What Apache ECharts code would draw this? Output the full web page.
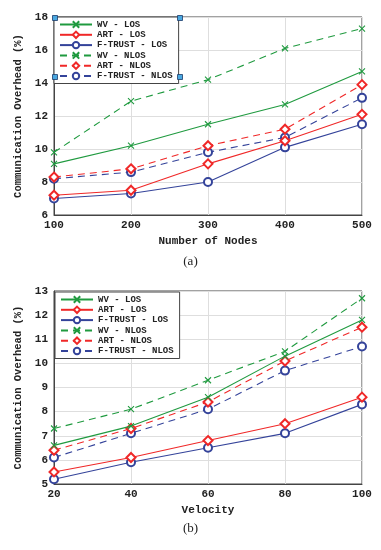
<!DOCTYPE html>
<html><head><meta charset="utf-8">
<script src="https://cdn.jsdelivr.net/npm/echarts@6/dist/echarts.min.js"></script>
<style>html,body{margin:0;padding:0;background:#fff;}#a,#b{width:381px;height:275px;}</style>
</head><body><div id="a"></div><div id="b"></div>
<script>
const seriesNames = ['WV - LOS','ART - LOS','F-TRUST - LOS','WV - NLOS','ART - NLOS','F-TRUST - NLOS'];
const nodesX = [100,200,300,400,500];
const a_wvLos = [9.1,10.2,11.5,12.7,14.7];
const a_artLos = [7.2,7.5,9.1,10.5,12.1];
const a_ftLos = [7.0,7.3,8.0,10.1,11.5];
const a_wvNlos = [9.8,12.9,14.2,16.1,17.3];
const a_artNlos = [8.3,8.8,10.2,11.2,13.9];
const a_ftNlos = [8.2,8.6,9.8,10.7,13.1];
const velX = [20,40,60,80,100];
const b_wvLos = [6.6,7.4,8.6,10.3,11.8];
const b_artLos = [5.5,6.1,6.8,7.5,8.6];
const b_ftLos = [5.2,5.9,6.5,7.1,8.3];
const b_wvNlos = [7.3,8.1,9.3,10.5,12.7];
const b_artNlos = [6.4,7.3,8.4,10.1,11.5];
const b_ftNlos = [6.1,7.1,8.1,9.7,10.7];

const GREEN='#1f9a3f', RED='#f02828', BLUE='#34439a';
const XSYM='path://M0,0L10,10M10,0L0,10';
const styles=[
 {c:GREEN,s:XSYM,d:'solid',sz:6},
 {c:RED,s:'emptyDiamond',d:'solid',sz:9},
 {c:BLUE,s:'emptyCircle',d:'solid',sz:8},
 {c:GREEN,s:XSYM,d:[7,5],sz:6},
 {c:RED,s:'emptyDiamond',d:[7,5],sz:9},
 {c:BLUE,s:'emptyCircle',d:[7,5],sz:8}
];
const FONT='Liberation Mono';
function mkSeries(xs, arrs){
 return arrs.map((arr,i)=>({
  name:seriesNames[i], type:'line', data:xs.map((x,j)=>[x,arr[j]]),
  symbol:styles[i].s, symbolSize:styles[i].sz, showSymbol:true, clip:false,
  lineStyle:{color:styles[i].c,width:1.1,type:styles[i].d},
  itemStyle:{color:styles[i].c,borderColor:styles[i].c,borderWidth:1.1},
  z:10-i, animation:false
 }));
}
function mkOption(cfg){
 return {
  animation:false,
  grid:{left:54,right:19,top:cfg.top,height:cfg.h,show:true,borderColor:'#444',borderWidth:1,backgroundColor:'transparent'},
  legend:{orient:'vertical',left:cfg.lx,top:cfg.ly,data:seriesNames,itemWidth:32,itemHeight:8,itemGap:1.3,
   padding:[3,6,3,5],backgroundColor:'#fff',borderColor:'#444',borderWidth:1,
   textStyle:{fontFamily:FONT,fontWeight:'bold',fontSize:9,color:'#222',lineHeight:9}},
  xAxis:{type:'value',min:cfg.xmin,max:cfg.xmax,interval:cfg.xint,name:cfg.xname,nameLocation:'middle',nameGap:cfg.nameGap,
   nameTextStyle:{fontFamily:FONT,fontWeight:'bold',fontSize:11,color:'#222'},
   axisLine:{show:true,lineStyle:{color:'#444'}},axisTick:{show:false},
   axisLabel:{fontFamily:FONT,fontWeight:'bold',fontSize:11,color:'#222',margin:5},
   splitLine:{show:true,lineStyle:{color:'#dedede',width:1}}},
  yAxis:{type:'value',min:cfg.ymin,max:cfg.ymax,interval:cfg.yint,name:'Communication Overhead (%)',nameLocation:'middle',nameGap:25,
   nameTextStyle:{fontFamily:FONT,fontWeight:'bold',fontSize:10.5,color:'#222'},
   axisLine:{show:true,lineStyle:{color:'#444'}},axisTick:{show:false},
   axisLabel:{fontFamily:FONT,fontWeight:'bold',fontSize:11,color:'#222',margin:6},
   splitLine:{show:true,lineStyle:{color:'#dedede',width:1}}},
  graphic:cfg.graphic,
  series:mkSeries(cfg.xs,cfg.arrs)
 };
}
const handle=(x,y)=>({type:'rect',shape:{x:x-2.5,y:y-2.5,width:5,height:5},style:{fill:'#4aa8e0',stroke:'#1a3a6a',lineWidth:0.8},z:100});
const ca=echarts.init(document.getElementById('a'),null,{renderer:'canvas'});
ca.setOption(mkOption({top:17,h:198,lx:54,ly:17,xmin:100,xmax:500,xint:100,ymin:6,ymax:18,yint:2,xname:'Number of Nodes',nameGap:17,
 xs:nodesX,arrs:[a_wvLos,a_artLos,a_ftLos,a_wvNlos,a_artNlos,a_ftNlos],
 graphic:[handle(55,18),handle(180,18),handle(55,77),handle(180,77),
  {type:'text',left:'center',top:255,style:{text:'(a)',font:'13px "Liberation Serif"',fill:'#222'},z:100}]}));
const cb=echarts.init(document.getElementById('b'),null,{renderer:'canvas'});
cb.setOption(mkOption({top:16,h:193,lx:55,ly:17,xmin:20,xmax:100,xint:20,ymin:5,ymax:13,yint:1,xname:'Velocity',nameGap:20,
 xs:velX,arrs:[b_wvLos,b_artLos,b_ftLos,b_wvNlos,b_artNlos,b_ftNlos],
 graphic:[{type:'text',left:'center',top:247,style:{text:'(b)',font:'13px "Liberation Serif"',fill:'#222'},z:100}]}));
</script></body></html>
